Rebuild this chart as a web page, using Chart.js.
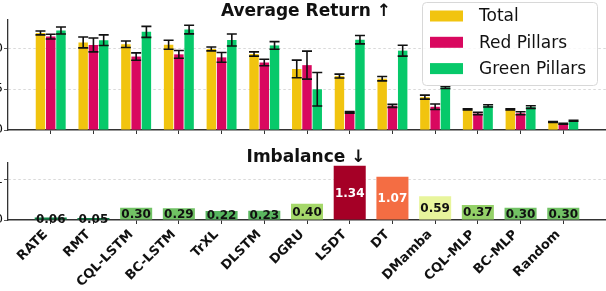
<!DOCTYPE html>
<html>
<head>
<meta charset="utf-8">
<script src="https://cdn.jsdelivr.net/npm/chart.js@4.4.0/dist/chart.umd.min.js"></script>
<style>
  html, body { margin: 0; padding: 0; background: #fff; overflow: hidden; }
  #wrap { position: relative; width: 606px; height: 291px; }
  canvas { position: absolute; left: 0; }
  #topChart { top: 0; }
  #botChart { top: 140px; }
</style>
</head>
<body>
<div id="wrap">
  <canvas id="topChart" width="606" height="140"></canvas>
  <canvas id="botChart" width="606" height="151"></canvas>
</div>
<script>
// ---- data ----
const methods = ['RATE', 'RMT', 'CQL-LSTM', 'BC-LSTM', 'TrXL', 'DLSTM', 'DGRU', 'LSDT', 'DT', 'DMamba', 'CQL-MLP', 'BC-MLP', 'Random'];

const totalReturn = [1.187, 1.071, 1.049, 1.043, 0.991, 0.929, 0.746, 0.659, 0.628, 0.402, 0.252, 0.252, 0.098];
const totalErr    = [0.024, 0.067, 0.040, 0.055, 0.024, 0.026, 0.108, 0.024, 0.027, 0.024, 0.008, 0.008, 0.006];
const redReturn   = [1.142, 1.040, 0.898, 0.925, 0.888, 0.825, 0.793, 0.215, 0.295, 0.284, 0.201, 0.205, 0.077];
const redErr      = [0.029, 0.085, 0.045, 0.047, 0.059, 0.040, 0.171, 0.010, 0.018, 0.033, 0.015, 0.018, 0.006];
const greenReturn = [1.217, 1.098, 1.200, 1.228, 1.101, 1.034, 0.498, 1.104, 0.970, 0.520, 0.295, 0.280, 0.113];
const greenErr    = [0.043, 0.065, 0.067, 0.053, 0.073, 0.047, 0.205, 0.051, 0.067, 0.012, 0.014, 0.016, 0.006];

const imbalance = [0.06, 0.05, 0.30, 0.29, 0.22, 0.23, 0.40, 1.34, 1.07, 0.59, 0.37, 0.30, 0.30];

const returnTicks = [0, 0.5, 1.0];
const imbalanceTicks = [0, 1];

// ---- styles ----
const YELLOW = '#f1c40f', RED = '#d9085f', GREEN = '#07c96a';
const imbColors = ['#0e8245', '#0b7d42', '#72c265', '#70c164', '#57b65f', '#5bb760', '#a5d86a',
                   '#a50026', '#f46d43', '#e8f59c', '#94d168', '#72c265', '#72c265'];
const FONT = '"DejaVu Sans", sans-serif';

// one empty slot each side, like the xlim padding in the original
const pad = arr => [null, ...arr, null];
const xLabels = pad(methods).map(m => m == null ? '' : m);

// ---- plugins ----
const errorBars = {
  id: 'errorBars',
  afterDatasetsDraw(chart) {
    const { ctx } = chart;
    const y = chart.scales.y;
    ctx.save();
    ctx.strokeStyle = '#111';
    ctx.lineWidth = 1.6;
    chart.data.datasets.forEach((ds, i) => {
      const meta = chart.getDatasetMeta(i);
      meta.data.forEach((bar, j) => {
        const v = ds.data[j];
        if (v == null) return;
        const e = ds.errs[j];
        const y1 = y.getPixelForValue(v + e), y2 = y.getPixelForValue(v - e);
        ctx.beginPath();
        ctx.moveTo(bar.x, y1); ctx.lineTo(bar.x, y2);
        ctx.moveTo(bar.x - 5, y1); ctx.lineTo(bar.x + 5, y1);
        ctx.moveTo(bar.x - 5, y2); ctx.lineTo(bar.x + 5, y2);
        ctx.stroke();
      });
    });
    ctx.restore();
  }
};

function titlePlugin(text, baseline) {
  return {
    id: 'panelTitle',
    afterDraw(chart) {
      const { ctx, chartArea } = chart;
      ctx.save();
      ctx.font = 'bold 17px ' + FONT;
      ctx.fillStyle = '#111';
      ctx.textAlign = 'center';
      ctx.textBaseline = 'alphabetic';
      ctx.fillText(text, (chartArea.left + chartArea.right) / 2 - 1, baseline);
      ctx.restore();
    }
  };
}

const legendBox = {
  id: 'legendBox',
  afterDraw(chart) {
    const { ctx } = chart;
    ctx.save();
    ctx.fillStyle = 'rgba(255,255,255,0.8)';
    ctx.strokeStyle = '#d8d8d8';
    ctx.lineWidth = 1;
    ctx.beginPath();
    ctx.roundRect(422.5, 2.5, 175, 83, 4);
    ctx.fill(); ctx.stroke();
    ctx.font = '17px ' + FONT;
    ctx.textBaseline = 'middle';
    ctx.textAlign = 'left';
    chart.data.datasets.forEach((ds, i) => {
      const cy = 16 + i * 26.3;
      ctx.fillStyle = ds.backgroundColor;
      ctx.fillRect(430, cy - 5.5, 33, 11);
      ctx.fillStyle = '#111';
      ctx.fillText(ds.label, 479, cy + 1);
    });
    ctx.restore();
  }
};

const barValues = {
  id: 'barValues',
  afterDatasetsDraw(chart) {
    const { ctx } = chart;
    const ds = chart.data.datasets[0];
    const meta = chart.getDatasetMeta(0);
    ctx.save();
    ctx.font = 'bold 12px ' + FONT;
    ctx.textAlign = 'center';
    ctx.textBaseline = 'middle';
    meta.data.forEach((bar, j) => {
      const v = ds.data[j];
      if (v == null) return;
      ctx.fillStyle = v > 1 ? '#fff' : '#111';
      ctx.fillText(v.toFixed(2), bar.x, (bar.y + bar.base) / 2 + 1);
    });
    ctx.restore();
  }
};

// ---- shared axis pieces ----
function xAxis(showLabels, height) {
  return {
    type: 'category',
    offset: false,
    grid: {
      offset: false,
      drawOnChartArea: false,
      drawTicks: true,
      tickLength: 4,
      tickWidth: 1,
      color: 'transparent',
      tickColor: c => (c.tick && c.tick.label === '') ? 'transparent' : '#333'
    },
    border: { color: '#333', width: 1.5 },
    ticks: {
      display: showLabels,
      autoSkip: false,
      minRotation: 45,
      maxRotation: 45,
      padding: 3,
      labelOffset: -5,
      color: '#111',
      font: { family: FONT, size: 13, weight: 'bold' }
    },
    afterFit(s) { s.height = height; s.paddingLeft = 0; s.paddingRight = 0; }
  };
}

function yAxis(max, ticks, fmt) {
  return {
    min: 0,
    max: max,
    afterBuildTicks(s) { s.ticks = ticks.map(v => ({ value: v })); },
    grid: {
      color: c => c.tick && c.tick.value === 0 ? 'transparent' : '#cfcfcf',
      lineWidth: 0.8,
      drawTicks: true,
      tickLength: 4,
      tickColor: '#333',
      tickBorderDash: []
    },
    border: { color: '#333', width: 1.3, dash: [2.5, 2.5] },
    ticks: {
      padding: 1,
      color: '#111',
      font: { family: FONT, size: 13 },
      callback: v => fmt(v)
    },
    afterFit(s) { s.width = 8; s.paddingTop = 0; s.paddingBottom = 0; }
  };
}

// ---- top panel: average return ----
new Chart(document.getElementById('topChart'), {
  type: 'bar',
  data: {
    labels: xLabels,
    datasets: [
      { label: 'Total', data: pad(totalReturn), errs: pad(totalErr), backgroundColor: YELLOW },
      { label: 'Red Pillars', data: pad(redReturn), errs: pad(redErr), backgroundColor: RED },
      { label: 'Green Pillars', data: pad(greenReturn), errs: pad(greenErr), backgroundColor: GREEN }
    ]
  },
  options: {
    responsive: false,
    animation: false,
    layout: { padding: { top: 20, left: 0, right: 0, bottom: 0 } },
    datasets: { bar: { categoryPercentage: 0.72, barPercentage: 0.92 } },
    plugins: { legend: { display: false }, tooltip: { enabled: false } },
    scales: {
      x: xAxis(false, 10),
      y: yAxis(1.345, returnTicks, v => v.toFixed(1))
    }
  },
  plugins: [errorBars, titlePlugin('Average Return \u2191', 15.5), legendBox]
});

// ---- bottom panel: imbalance ----
new Chart(document.getElementById('botChart'), {
  type: 'bar',
  data: {
    labels: xLabels,
    datasets: [
      { label: 'Imbalance', data: pad(imbalance), backgroundColor: pad(imbColors) }
    ]
  },
  options: {
    responsive: false,
    animation: false,
    layout: { padding: { top: 23, left: 0, right: 0, bottom: 0 } },
    datasets: { bar: { categoryPercentage: 0.75, barPercentage: 1 } },
    plugins: { legend: { display: false }, tooltip: { enabled: false } },
    scales: {
      x: xAxis(true, 71),
      y: yAxis(1.41, imbalanceTicks, v => String(v))
    }
  },
  plugins: [barValues, titlePlugin('Imbalance \u2193', 21.5)]
});
</script>
</body>
</html>
